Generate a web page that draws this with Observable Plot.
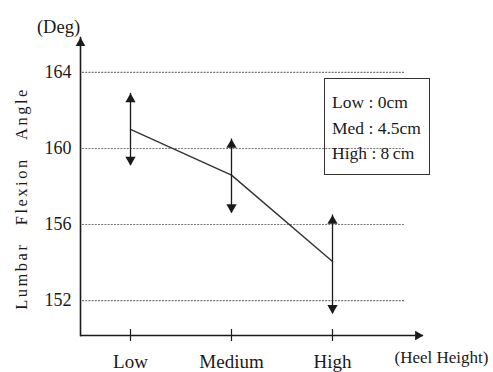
<!DOCTYPE html>
<html>
<head>
<meta charset="utf-8">
<script src="https://cdn.jsdelivr.net/npm/d3@7"></script>
<script src="https://cdn.jsdelivr.net/npm/@observablehq/plot@0.6"></script>
<style>
  body { margin: 0; background: #fff; }
  #wrap { position: relative; width: 493px; height: 372px; font-family: "Liberation Serif", serif; }
  #wrap svg text { font-family: "Liberation Serif", serif; }
  #wrap svg text[transform*="rotate"] { letter-spacing: 2.5px; }
  #legend { position: absolute; left: 324px; top: 78px; width: 106px; height: 97px; border: 1.5px solid #333;
            box-sizing: border-box; padding: 11px 0 0 7px; font-size: 17.5px; line-height: 25.5px; color: #1a1a1a; }
</style>
</head>
<body>
<div id="wrap"></div>
<script>
const categories = ["Low", "Medium", "High"];
const means = [161.0, 158.6, 154.05];
const upper = [162.9, 160.5, 156.5];
const lower = [159.1, 156.6, 151.3];
const yTicks = [152, 156, 160, 164];
const legendLines = ["Low : 0cm", "Med : 4.5cm", "High : 8\u2009cm"];
const yMin = 150.16, yMax = 165.84;

const rows = categories.map((c, i) => ({cat: c, mean: means[i], lo: lower[i], hi: upper[i]}));
const ink = "#1a1a1a";
const serif = "Liberation Serif";

const chart = Plot.plot({
  width: 493,
  height: 372,
  marginLeft: 80,
  marginRight: 70,
  marginTop: 37,
  marginBottom: 37,
  style: {fontFamily: "'Liberation Serif', serif", color: ink, background: "white", overflow: "visible"},
  x: {type: "point", domain: categories, padding: 0.698, align: 0.355},
  y: {domain: [yMin, yMax]},
  marks: [
    Plot.ruleY(yTicks, {stroke: "#777", strokeWidth: 1.2, strokeDasharray: "2,1.2", insetLeft: 2, insetRight: 19}),
    Plot.frame({anchor: "left", stroke: ink, strokeWidth: 1.6}),
    Plot.ruleY([yMin], {stroke: ink, strokeWidth: 1.6}),
    Plot.dot([yMax], {y: d => d, frameAnchor: "left", symbol: "triangle", r: 3.6, fill: ink, stroke: "none", dy: 5.6}),
    Plot.dot([yMin], {y: d => d, frameAnchor: "right", symbol: "triangle", r: 3.6, fill: ink, stroke: "none", rotate: 90, dx: -5.6}),
    Plot.ruleX(categories, {x: d => d, y1: yMin, y2: yMin, insetTop: -6, insetBottom: -6, stroke: ink, strokeWidth: 1.2}),
    Plot.axisY({ticks: yTicks, tickSize: 0, tickPadding: 9, fontSize: 18, fontFamily: serif, label: null}),
    Plot.axisX({tickSize: 0, tickPadding: 19, fontSize: 19, fontFamily: serif, label: null}),
    Plot.text([yMax], {y: d => d, frameAnchor: "left", text: () => "(Deg)", fontSize: 18.5, fontFamily: serif, dx: -22, dy: -10, textAnchor: "middle", lineAnchor: "middle", fill: ink}),
    Plot.text([yMin], {y: d => d, frameAnchor: "right", text: () => "(Heel Height)", fontSize: 17, fontFamily: serif, dx: 18, dy: 22, textAnchor: "middle", lineAnchor: "middle", fill: ink}),
    Plot.text([(yMin + yMax) / 2], {y: d => d, frameAnchor: "left", text: () => "Lumbar \u2002Flexion \u2002Angle", fontSize: 16.5, fontFamily: serif, rotate: -90, dx: -59, dy: 12, textAnchor: "middle", lineAnchor: "middle", fill: ink}),
    Plot.line(rows, {x: "cat", y: "mean", stroke: "#333", strokeWidth: 1.4}),
    Plot.ruleX(rows, {x: "cat", y1: "lo", y2: "hi", stroke: ink, strokeWidth: 1.3}),
    Plot.dot(rows, {x: "cat", y: "hi", symbol: "triangle", r: 3.8, fill: ink, stroke: "none", dy: 5.8}),
    Plot.dot(rows, {x: "cat", y: "lo", symbol: "triangle", r: 3.8, fill: ink, stroke: "none", rotate: 180, dy: -5.8})
  ]
});

const wrap = document.getElementById("wrap");
wrap.appendChild(chart);
const legend = document.createElement("div");
legend.id = "legend";
legend.innerHTML = legendLines.map(s => `<div>${s}</div>`).join("");
wrap.appendChild(legend);
</script>
</body>
</html>
